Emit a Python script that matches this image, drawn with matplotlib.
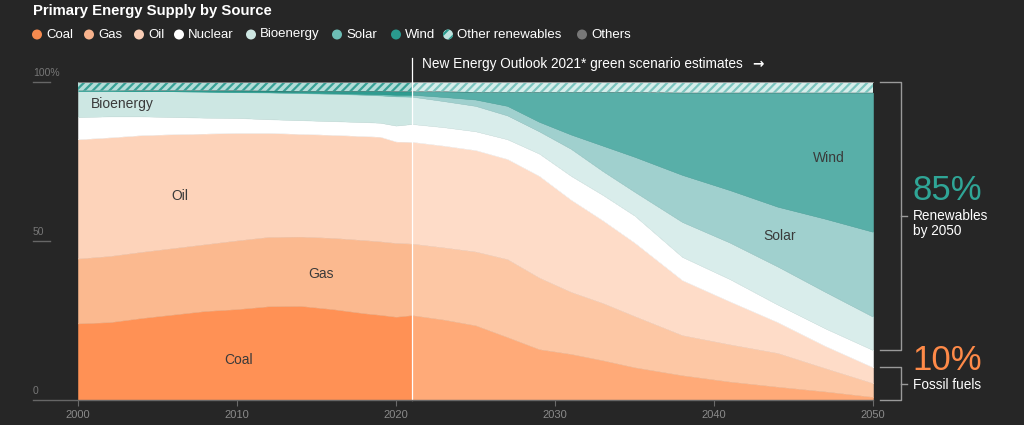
import matplotlib
matplotlib.use("Agg")
import matplotlib.pyplot as plt
import numpy as np
from matplotlib.lines import Line2D
from matplotlib.patches import Circle
import matplotlib.transforms as mtransforms

# ---------------- data (share of primary energy supply, %) ----------------
years = [2000, 2002, 2004, 2006, 2008, 2010, 2012, 2014, 2016, 2018, 2019, 2020,
         2021, 2023, 2025, 2027, 2029, 2031, 2033, 2035, 2038, 2041, 2044, 2047, 2050]
coal = [24.1, 24.5, 25.8, 26.9, 28.0, 28.6, 29.5, 29.6, 28.6, 27.3, 26.8, 26.2,
        26.7, 25.3, 23.5, 19.8, 16.0, 14.5, 12.5, 10.3, 7.8, 5.8, 4.2, 2.7, 1.0]
gas = [20.4, 20.8, 20.8, 20.9, 21.0, 21.6, 21.8, 21.8, 22.4, 23.0, 23.1, 23.2,
       22.5, 22.7, 23.2, 24.5, 22.5, 19.5, 18.0, 16.1, 12.6, 11.7, 10.6, 7.3, 4.3]
oil = [37.5, 37.3, 36.7, 35.8, 34.8, 33.8, 32.7, 32.3, 32.4, 32.7, 32.9, 31.9,
       32.0, 32.0, 31.9, 31.5, 32.0, 29.0, 26.0, 23.1, 17.3, 13.5, 9.7, 7.0, 5.0]
nuclear = [7.0, 6.6, 5.9, 5.4, 5.0, 4.7, 4.3, 4.3, 4.3, 4.4, 4.4, 5.0,
           5.6, 5.8, 5.9, 6.2, 7.0, 7.5, 8.0, 8.5, 7.3, 7.0, 5.5, 5.5, 5.4]
bioenergy = [8.3, 8.1, 8.0, 8.1, 8.2, 8.1, 8.4, 8.5, 8.6, 8.6, 8.6, 9.2,
             8.6, 8.2, 8.0, 7.5, 7.0, 8.5, 7.5, 7.5, 11.0, 11.5, 12.0, 11.5, 10.5]
solar = [0.0, 0.0, 0.0, 0.0, 0.0, 0.1, 0.1, 0.2, 0.2, 0.3, 0.4, 0.5,
         0.6, 1.3, 2.0, 3.0, 3.0, 4.5, 8.0, 11.0, 14.8, 16.5, 18.8, 23.0, 26.7]
wind = [0.0, 0.0, 0.1, 0.2, 0.3, 0.4, 0.4, 0.4, 0.6, 0.8, 0.9, 1.0,
        1.0, 1.7, 2.3, 4.3, 9.3, 13.3, 16.8, 20.3, 25.8, 30.6, 35.8, 39.6, 43.7]
other_renewables = [2.7, 2.7, 2.7, 2.7, 2.7, 2.7, 2.8, 2.9, 2.9, 2.9, 2.9, 3.0,
                    3.0, 3.0, 3.2, 3.2, 3.2, 3.2, 3.2, 3.2, 3.4, 3.4, 3.4, 3.4, 3.4]
others = [0.0] * 25

labels = ["Coal", "Gas", "Oil", "Nuclear", "Bioenergy", "Solar", "Wind",
          "Other renewables", "Others"]
projection_start = 2021
xticks = [2000, 2010, 2020, 2030, 2040, 2050]

# ---------------- style ----------------
W, H = 1024, 425
BG = "#262626"
FONT = ["Liberation Sans", "DejaVu Sans"]
plt.rcParams["font.family"] = FONT
plt.rcParams["hatch.linewidth"] = 1.6

hist_colors = ["#FF9155", "#FBB98F", "#FDD3BA", "#FFFFFF", "#CDE7E3",
               "#72C0B8", "#2E9C90", "#B3DDD8", "#777777"]
proj_colors = ["#FFAA78", "#FDC7A4", "#FEDCC8", "#FFFFFF", "#D9EDEB",
               "#A0D0CE", "#58AFA8", "#D6EEEB", "#999999"]
hist_hatch = "#3AA196"
proj_hatch = "#7CC5BF"
legend_colors = ["#F58A4F", "#F7B28C", "#F9CDB5", "#FFFFFF", "#CDE6E2",
                 "#6DBDB5", "#2A9A8E", "#2A9A8E", "#777777"]

fig = plt.figure(figsize=(W / 100, H / 100), dpi=100, facecolor=BG)
ax = fig.add_axes([78 / W, 25 / H, 795 / W, 318 / H])
ax.set_facecolor(BG)
ax.set_xlim(2000, 2050)
ax.set_ylim(0, 100)
for s in ax.spines.values():
    s.set_visible(False)
ax.set_yticks([])

yrs = np.array(years)
series = [coal, gas, oil, nuclear, bioenergy, solar, wind, other_renewables, others]
data = np.array(series)


def draw(mask, colors, hatch_col):
    polys = ax.stackplot(yrs[mask], data[:, mask], colors=colors, linewidth=0)
    for i, p in enumerate(polys):
        if labels[i] == "Other renewables":
            p.set_hatch("////")
            p.set_edgecolor(hatch_col)
            p.set_linewidth(0)
        else:
            p.set_edgecolor(colors[i])
            p.set_linewidth(0.4)


draw(yrs <= projection_start, hist_colors, hist_hatch)
draw(yrs >= projection_start, proj_colors, proj_hatch)

# x ticks
ax.set_xticks(xticks)
ax.tick_params(axis="x", length=4, width=0.8, color="#6a6a6a", labelcolor="#8a8a8a",
               labelsize=8, pad=3)

# y tick labels with underlines, baseline
tr = mtransforms.blended_transform_factory(fig.transFigure, ax.transData)
for v, lab in [(100, "100%"), (50, "50"), (0, "0")]:
    ax.annotate(lab, xy=(33 / W, v), xycoords=tr, xytext=(0, 3.2),
                textcoords="offset points", ha="left", va="bottom",
                color="#777777", fontsize=7.5, annotation_clip=False)
    x1 = 873 / W if v == 0 else 50 / W
    fig.add_artist(Line2D([33 / W, x1], [v, v], transform=tr, color="#666666", lw=1))

# projection divider
px_per_year = 795 / 50.0
ax.plot([projection_start, projection_start], [0, (400 - 58) / 3.18],
        color="white", lw=0.9, clip_on=False, zorder=5)
ax.text(projection_start + 10 / px_per_year, (400 - 64) / 3.18,
        "New Energy Outlook 2021* green scenario estimates",
        color="white", fontsize=9.8, va="center", ha="left", clip_on=False)
ax.text(projection_start + 340 / px_per_year, (400 - 64) / 3.18, "\u2192",
        color="white", fontsize=9.8, fontweight="bold", va="center", ha="left",
        family=["DejaVu Sans"], clip_on=False)

# in-chart labels
lab_col = "#3a3a3a"
for txt, x, y in [("Bioenergy", 2000.8, 93.0), ("Oil", 2006.4, 64.0),
                  ("Gas", 2015.3, 39.5), ("Coal", 2010.1, 12.5),
                  ("Wind", 2047.25, 76.0), ("Solar", 2044.1, 51.5)]:
    ha = "left" if txt == "Bioenergy" else "center"
    ax.text(x, y, txt, color=lab_col, fontsize=10, ha=ha, va="center")

# brackets on the right
def xd(px):
    return 2000 + (px - 78) / px_per_year

fossil_2050 = coal[-1] + gas[-1] + oil[-1]
nonren_2050 = fossil_2050 + nuclear[-1]
bcol = "#9a9a9a"
for top, bot in [(100, nonren_2050), (fossil_2050, 0)]:
    ax.plot([xd(880), xd(901), xd(901), xd(880)], [top, top, bot, bot],
            color=bcol, lw=1, clip_on=False)
    mid = (top + bot) / 2
    ax.plot([xd(901), xd(907)], [mid, mid], color=bcol, lw=1, clip_on=False)

ax.text(xd(912), (400 - 191) / 3.18, "85%", color="#2FA596", fontsize=25,
        ha="left", va="center", clip_on=False)
ax.text(xd(913), (400 - 216) / 3.18, "Renewables", color="white",
        fontsize=9.8, ha="left", va="center", clip_on=False)
ax.text(xd(913), (400 - 231) / 3.18, "by 2050", color="white",
        fontsize=9.8, ha="left", va="center", clip_on=False)
ax.text(xd(912), (400 - 361) / 3.18, "10%", color="#FF8A48", fontsize=25,
        ha="left", va="center", clip_on=False)
ax.text(xd(913), (400 - 385) / 3.18, "Fossil fuels", color="white",
        fontsize=9.8, ha="left", va="center", clip_on=False)

# title
fig.text(33 / W, 1 - 11 / H, "Primary Energy Supply by Source", color="white",
         fontsize=10.7, fontweight="bold", ha="left", va="center")

# legend
leg_marker_x = [37, 89, 139, 179, 251, 337, 396, 448, 582]
ly = 34.5
for i, (lab, mx) in enumerate(zip(labels, leg_marker_x)):
    if lab == "Other renewables":
        c = Circle((mx / 100, (H - ly) / 100), 0.05, transform=fig.dpi_scale_trans,
                   facecolor="#BFE3DF", edgecolor=legend_colors[i], lw=0, hatch="///")
    else:
        c = Circle((mx / 100, (H - ly) / 100), 0.05, transform=fig.dpi_scale_trans,
                   facecolor=legend_colors[i], edgecolor="none")
    fig.add_artist(c)
    fig.text((mx + 9) / W, 1 - ly / H, lab, color="white", fontsize=9.5,
             ha="left", va="center")

fig.savefig("out.png", dpi=100, facecolor=BG)
